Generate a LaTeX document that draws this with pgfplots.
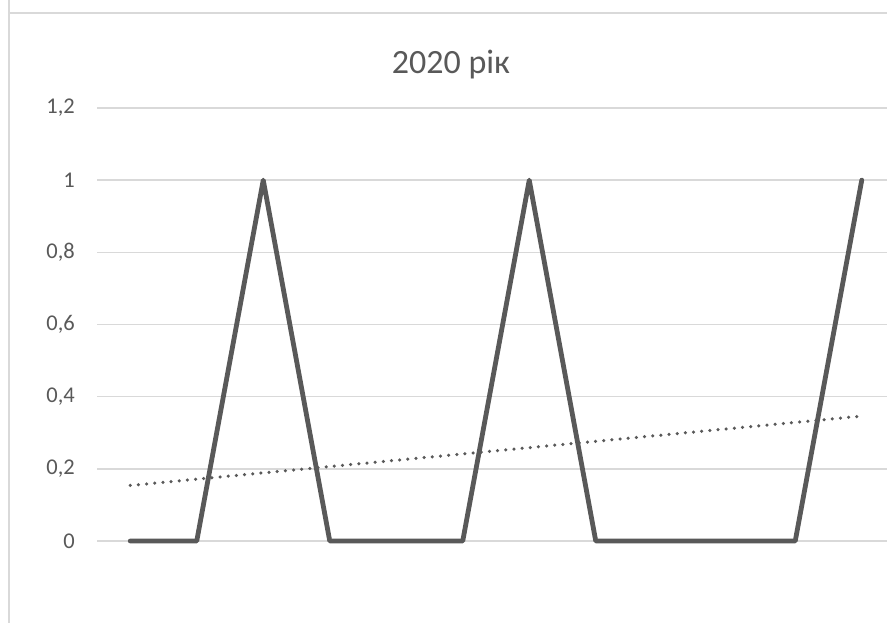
\documentclass[border=0pt]{standalone}
\usepackage{pgfplots}
\pgfplotsset{compat=1.18}
\usepackage{fontspec}
\setmainfont{Carlito}
\definecolor{linegray}{RGB}{89,89,89}
\definecolor{gridgray}{RGB}{217,217,217}
\definecolor{textgray}{RGB}{89,89,89}
\begin{document}
\begin{tikzpicture}[x=1pt,y=1pt]
\useasboundingbox (0,0) rectangle (887,623);
\clip (0,0) rectangle (887,623);
\fill[white] (0,0) rectangle (887,623);
\draw[gridgray, line width=1.5pt] (9,2000) -- (9,610) -- (2000,610);
\draw[gridgray, line width=1.5pt] (9,610) -- (9,-100);
\node[text=textgray, font=\fontsize{34}{34}\selectfont] at (451,558) {2020 рік};
\begin{axis}[
  at={(97pt,82pt)}, anchor=south west,
  scale only axis, width=798pt, height=433pt,
  xmin=0.5, xmax=12.5, ymin=0, ymax=1.2,
  axis line style={draw=none},
  xtick=\empty,
  ytick={0,0.2,0.4,0.6,0.8,1,1.2},
  yticklabels={0,{0,2},{0,4},{0,6},{0,8},1,{1,2}},
  ymajorgrids, grid style={gridgray, line width=1.5pt},
  major tick length=0pt,
  yticklabel style={anchor=east, inner sep=0pt, xshift=-22pt, text=textgray, font=\fontsize{22.5}{22.5}\selectfont},
  clip=false,
]
\addplot[linegray, line width=4.8pt, line join=round, line cap=round] coordinates {
(1,0) (2,0) (3,1) (4,0) (5,0) (6,0) (7,1) (8,0) (9,0) (10,0) (11,0) (12,1)};
\addplot[linegray, line width=3.5pt, line cap=round, dash pattern=on 0pt off 8.2pt] coordinates {
(1,0.1538) (12,0.3462)};
\end{axis}
\end{tikzpicture}
\end{document}
